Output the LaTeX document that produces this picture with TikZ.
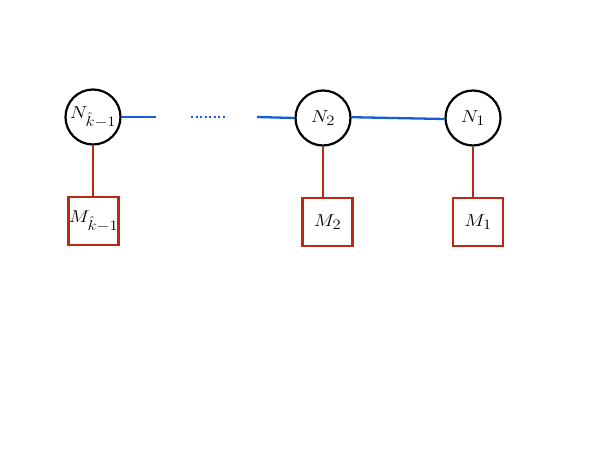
\documentclass[tikz,border=0pt]{standalone}
\usepackage{graphicx}
\usetikzlibrary{calc}
\DeclareMathSizes{17.28}{17.28}{14.4}{10}
\definecolor{lnblue}{RGB}{22,94,214}
\definecolor{lnred}{RGB}{190,40,18}
\newcommand\lbl[1]{\scalebox{1.15}[1]{$#1$}}
\begin{document}
\begin{tikzpicture}[x=1pt,y=-1pt,
  varnode/.style={circle,draw=black,line width=2.2pt,minimum size=55pt,inner sep=0pt,font=\LARGE},
  facnode/.style={rectangle,draw=lnred,line width=2.6pt,minimum width=50pt,minimum height=48pt,inner sep=0pt,font=\LARGE},
  bluelink/.style={draw=lnblue,line width=2.3pt},
  bluedots/.style={draw=lnblue,line width=2.3pt,dash pattern=on 2.3pt off 2.2pt},
  redlink/.style={draw=lnred,line width=1.6pt}]
\useasboundingbox (0,0) rectangle (599,450);
\node[varnode] (Nk) at (93,117) {\lbl{N_{\hat{k}-1}}};
\node[varnode] (N2) at (323,118) {\lbl{N_2}};
\node[varnode] (N1) at (473,118) {\lbl{N_1}};
\node[facnode] (Mk) at (93.5,221) {\lbl{M_{\hat{k}-1}}};
\node[facnode] (M2) at (327.5,222) {\lbl{M_2}};
\node[facnode] (M1) at (478,222) {\lbl{M_1}};
\coordinate (a1) at (156,117);
\coordinate (d1) at (191,117);
\coordinate (d2) at (227,117);
\coordinate (a2) at (257,117);
\draw[bluelink] (Nk.east) -- (a1);
\draw[bluedots] (d1) -- (d2);
\draw[bluelink] (a2) -- (N2.west);
\draw[bluelink] ($(N2.east)+(0,-0.8)$) -- ($(N1.west)+(0,1)$);
\draw[redlink] (Nk.south) -- (Nk.south |- Mk.north);
\draw[redlink] (N2.south) -- (N2.south |- M2.north);
\draw[redlink] (N1.south) -- (N1.south |- M1.north);
\end{tikzpicture}
\end{document}
